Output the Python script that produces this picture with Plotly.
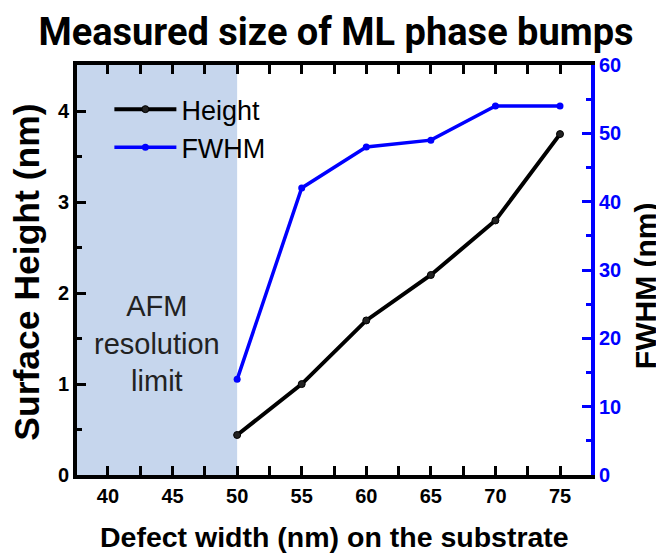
import plotly.graph_objects as go

# data
defect_width = [50, 55, 60, 65, 70, 75]
height_nm = [0.44, 1.0, 1.7, 2.2, 2.8, 3.75]
fwhm_nm = [14, 42, 48, 49, 54, 54]

x_range = [37.6, 77.4]
y_range = [0, 4.51]
y2_range = [0, 60]
afm_limit = 50

BLUE = "#0000ff"
AXIS_FONT = "Liberation Sans, Arial, sans-serif"

fig = go.Figure()

fig.add_trace(
    go.Scatter(
        x=defect_width,
        y=height_nm,
        name="Height",
        mode="lines+markers",
        line=dict(color="black", width=4),
        marker=dict(color="#222222", size=7, line=dict(color="black", width=1)),
    )
)
fig.add_trace(
    go.Scatter(
        x=defect_width,
        y=fwhm_nm,
        name="FWHM",
        yaxis="y2",
        mode="lines+markers",
        line=dict(color=BLUE, width=3.5),
        marker=dict(color=BLUE, size=7),
    )
)

# shaded AFM resolution limit
fig.add_shape(
    type="rect",
    xref="x",
    yref="paper",
    x0=x_range[0],
    x1=afm_limit,
    y0=0,
    y1=1,
    fillcolor="#c6d6ed",
    line=dict(width=0),
    layer="below",
)
fig.add_annotation(
    x=(x_range[0] + afm_limit) / 2,
    y=1.45,
    xref="x",
    yref="y",
    text="AFM<br>resolution<br>limit",
    showarrow=False,
    font=dict(family=AXIS_FONT, size=29, color="#222222"),
    align="center",
)

# axis titles placed as annotations for exact positioning
title_font = dict(family=AXIS_FONT, color="black", weight="bold")
fig.add_annotation(
    text="Defect width (nm) on the substrate",
    xref="paper", yref="paper", x=0.5, y=-0.152,
    xanchor="center", yanchor="middle", showarrow=False,
    font=dict(size=28.5, **title_font),
)
fig.add_annotation(
    text="Surface Height (nm)",
    xref="paper", yref="paper", x=-0.098, y=0.495,
    xanchor="center", yanchor="middle", showarrow=False, textangle=-90,
    font=dict(size=35.5, **title_font),
)
fig.add_annotation(
    text="FWHM (nm)",
    xref="paper", yref="paper", x=1.105, y=0.463,
    xanchor="center", yanchor="middle", showarrow=False, textangle=-90,
    font=dict(size=30, **title_font),
)

# page body has an 8px margin, so the figure is 8px smaller each way
fig.update_layout(
    width=656,
    height=546,
    paper_bgcolor="white",
    plot_bgcolor="white",
    margin=dict(l=69, r=73, t=57, b=79),
    title=dict(
        text="Measured size of ML phase bumps",
        font=dict(family="Roboto", size=38, color="black", weight="bold"),
        x=0.5,
        xanchor="center",
        y=0.956,
        yanchor="middle",
    ),
    xaxis=dict(
        range=x_range,
        automargin=False,
        tickvals=[40, 45, 50, 55, 60, 65, 70, 75],
        ticks="inside",
        ticklen=9,
        tickwidth=3,
        tickcolor="black",
        minor=dict(ticks="inside", dtick=2.5, tick0=0, ticklen=5, tickwidth=3, tickcolor="black"),
        showline=True,
        linecolor="black",
        linewidth=4,
        mirror="allticks",
        showgrid=False,
        zeroline=False,
        tickfont=dict(family=AXIS_FONT, size=20, color="black", weight="bold"),
    ),
    yaxis=dict(
        range=y_range,
        automargin=False,
        tickvals=[0, 1, 2, 3, 4],
        ticks="inside",
        ticklen=9,
        tickwidth=3,
        tickcolor="black",
        minor=dict(ticks="inside", dtick=0.5, tick0=0, ticklen=5, tickwidth=3, tickcolor="black"),
        showline=True,
        linecolor="black",
        linewidth=4,
        showgrid=False,
        zeroline=False,
        tickfont=dict(family=AXIS_FONT, size=20, color="black", weight="bold"),
    ),
    yaxis2=dict(
        range=y2_range,
        automargin=False,
        overlaying="y",
        side="right",
        tickvals=[0, 10, 20, 30, 40, 50, 60],
        ticks="inside",
        ticklen=9,
        tickwidth=3,
        tickcolor=BLUE,
        minor=dict(ticks="inside", dtick=5, tick0=0, ticklen=5, tickwidth=3, tickcolor=BLUE),
        showline=True,
        linecolor=BLUE,
        linewidth=4,
        showgrid=False,
        zeroline=False,
        tickfont=dict(family=AXIS_FONT, size=20, color=BLUE, weight="bold"),
    ),
    legend=dict(
        x=0.063,
        y=0.951,
        xanchor="left",
        yanchor="top",
        bgcolor="rgba(0,0,0,0)",
        font=dict(family=AXIS_FONT, size=27, color="black"),
        itemwidth=62,
        tracegroupgap=0,
    ),
    showlegend=True,
)

fig.write_html("out.html")
